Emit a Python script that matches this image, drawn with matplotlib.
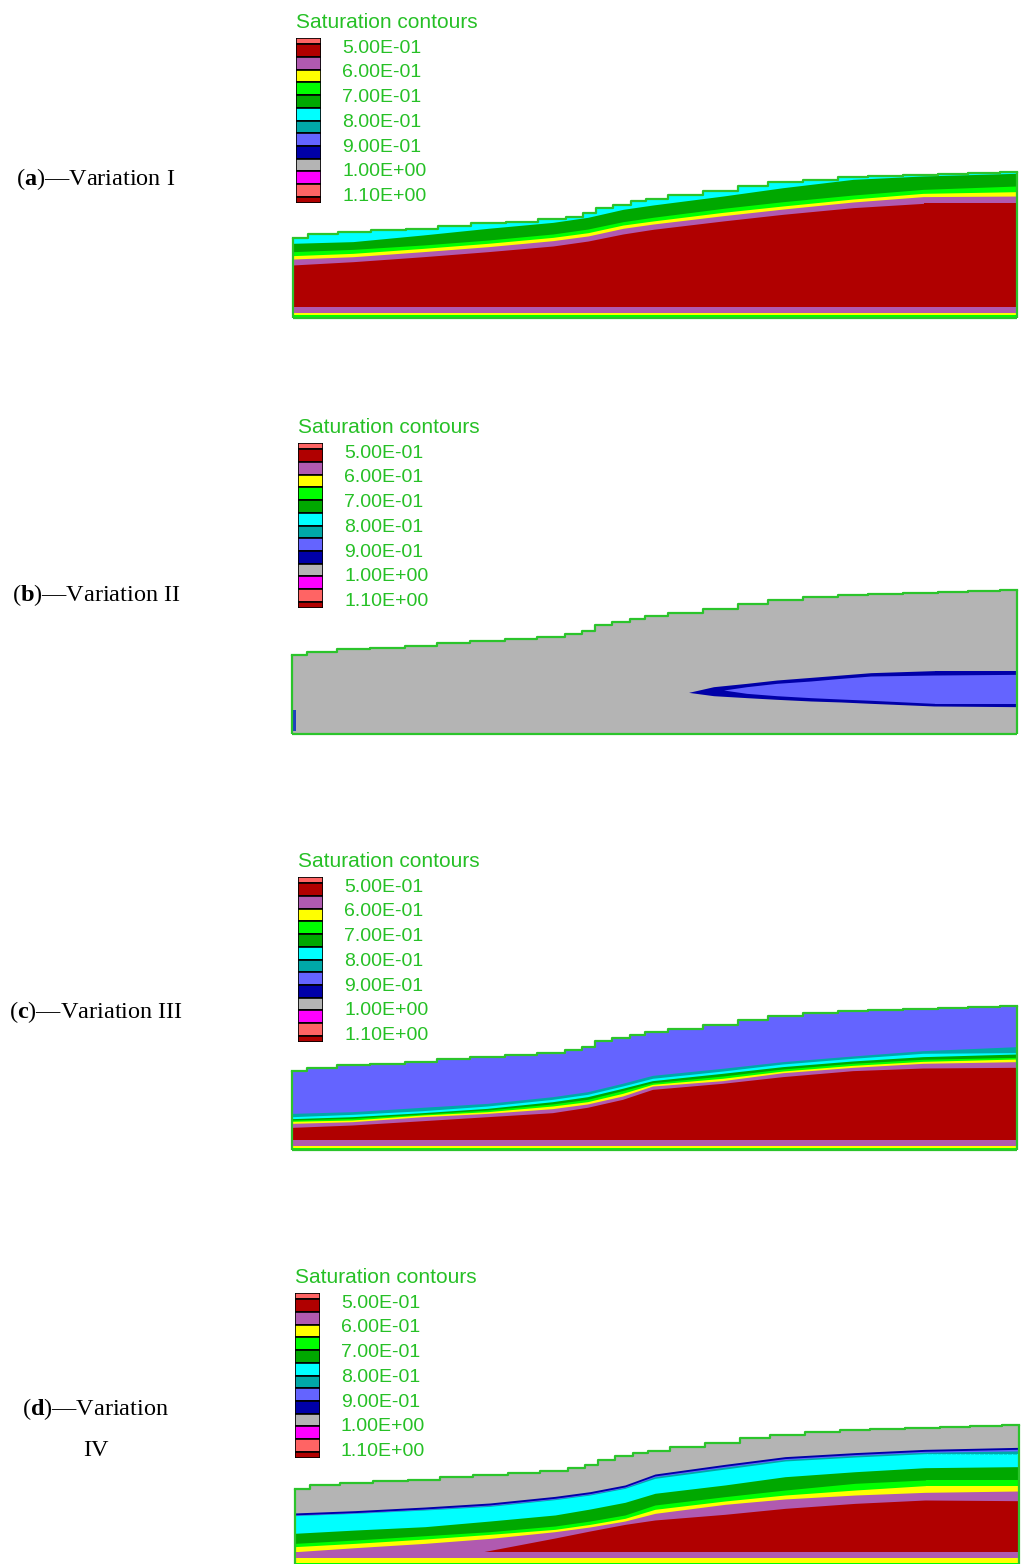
import numpy as np
import matplotlib
matplotlib.use("Agg")
import matplotlib.pyplot as plt

plt.rcParams['mathtext.fontset'] = 'custom'
plt.rcParams['mathtext.rm'] = 'Liberation Serif'
plt.rcParams['mathtext.bf'] = 'Liberation Serif:bold'

W, H = 1024, 1564

# saturation colour scale
SALMON = '#ff6464'
DARKRED = '#b00000'
ORCHID = '#b05ab0'
YELLOW = '#ffff00'
LIME = '#00ff00'
GREEN = '#00a800'
CYAN = '#00ffff'
TEAL = '#00a8a8'
SLATE = '#6464ff'
NAVY = '#0000a8'
GREY = '#b4b4b4'
MAGENTA = '#ff00ff'
EDGE = '#2bc42b'
TXT = '#26c026'

legend_colors = [SALMON, DARKRED, ORCHID, YELLOW, LIME, GREEN, CYAN, TEAL,
                 SLATE, NAVY, GREY, MAGENTA, SALMON, DARKRED]
legend_heights = [0.5] + [1] * 12 + [0.5]
legend_labels = ['5.00E-01', '6.00E-01', '7.00E-01', '8.00E-01',
                 '9.00E-01', '1.00E+00', '1.10E+00']

# ground surface of the slope (m)
x_surf = [0, 3, 6, 9.5, 13, 16, 19.5, 23, 26, 28.5, 29.5, 31, 33, 34.5, 36,
          39, 43, 46, 49, 53, 56, 59, 63, 66, 69, 72.4]
z_surf = [8.07, 8.42, 8.66, 8.83, 9.0, 9.25, 9.52, 9.7, 9.94, 10.2, 10.56,
          11.08, 11.42, 11.77, 12.0, 12.39, 12.8, 13.32, 13.67, 13.94, 14.18,
          14.29, 14.42, 14.53, 14.63, 14.7]

# stations where the contour boundaries were taken
x_st = [0, 6, 13, 19.5, 26, 29.5, 33, 36, 43, 49, 56, 63, 72.4]

# (a) Variation I - top of each zone (m)
a_green_top = [7.52, 7.69, 8.36, 9.03, 9.63, 10.14, 10.94, 11.38, 12.28, 13.12, 13.96, 14.30, 14.57]
a_lime_top = [6.68, 6.91, 7.35, 7.85, 8.46, 8.96, 9.70, 10.14, 11.04, 11.71, 12.38, 12.95, 13.29]
a_yellow_top = [6.28, 6.51, 7.01, 7.52, 8.12, 8.59, 9.36, 9.77, 10.64, 11.28, 11.98, 12.55, 12.72]
a_orchid_top = [5.94, 6.17, 6.68, 7.18, 7.79, 8.26, 9.03, 9.46, 10.30, 10.97, 11.68, 12.22, 12.28]
a_red_top = [5.34, 5.67, 6.17, 6.68, 7.25, 7.75, 8.46, 8.93, 9.77, 10.44, 11.11, 11.54, 11.54]
a_base = [1.12, 0.52, 0.28]

# (b) Variation II - saturated lens
x_lens = [39.6, 42.1, 45.4, 48.4, 51.8, 54.8, 57.8, 64.1, 72.4]
b_navy_top = [4.25, 4.83, 5.17, 5.51, 5.78, 6.02, 6.26, 6.47, 6.47]
b_navy_bot = [4.25, 3.91, 3.71, 3.54, 3.37, 3.27, 3.13, 2.86, 2.79]
x_core = [43.1, 45.4, 48.4, 51.8, 54.8, 57.8, 64.1, 72.4]
b_slate_top = [4.49, 4.83, 5.17, 5.41, 5.68, 5.92, 6.02, 6.09]
b_slate_bot = [4.49, 4.15, 3.91, 3.71, 3.57, 3.44, 3.13, 3.13]
b_seep_x = [0, 0.35]
b_seep_lo = [0.3, 0.3]
b_seep_hi = [2.4, 2.4]

# (c) Variation III
c_teal_top = [3.74, 3.91, 4.36, 4.76, 5.44, 5.95, 6.81, 7.62, 8.34, 9.02, 9.60, 10.14, 10.55]
c_cyan_top = [3.40, 3.64, 4.01, 4.49, 5.17, 5.68, 6.53, 7.32, 8.06, 8.78, 9.36, 9.87, 9.94]
c_green_top = [3.20, 3.40, 3.81, 4.25, 4.93, 5.44, 6.30, 7.08, 7.83, 8.51, 9.09, 9.53, 9.80]
c_lime_top = [3.06, 3.23, 3.67, 4.08, 4.70, 5.17, 6.06, 6.87, 7.55, 8.27, 8.85, 9.26, 9.46]
c_yellow_top = [2.93, 3.06, 3.57, 3.91, 4.49, 4.93, 5.78, 6.70, 7.32, 8.06, 8.64, 9.05, 9.29]
c_orchid_top = [2.72, 2.89, 3.40, 3.74, 4.22, 4.70, 5.51, 6.53, 7.08, 7.89, 8.44, 8.85, 9.02]
c_red_top = [2.31, 2.55, 2.99, 3.40, 3.81, 4.36, 5.17, 6.19, 6.81, 7.49, 8.10, 8.37, 8.44]
c_base = [1.02, 0.41, 0.20]

# (d) Variation IV
d_navy_top = [5.53, 5.77, 6.15, 6.57, 7.26, 7.75, 8.45, 9.59, 10.60, 11.40, 11.82, 12.16, 12.37]
d_slate_top = [5.33, 5.57, 5.95, 6.37, 7.06, 7.55, 8.25, 9.39, 10.40, 11.20, 11.62, 11.96, 12.17]
d_teal_top = [5.28, 5.52, 5.90, 6.30, 6.99, 7.48, 8.18, 9.30, 10.30, 11.10, 11.52, 11.86, 12.00]
d_cyan_top = [5.25, 5.49, 5.84, 6.22, 6.92, 7.40, 8.10, 9.14, 10.11, 10.95, 11.36, 11.71, 11.68]
d_green_top = [3.41, 3.75, 4.10, 4.69, 5.32, 5.94, 6.64, 7.58, 8.45, 9.31, 9.83, 10.25, 10.36]
d_lime_top = [2.36, 2.71, 3.16, 3.58, 4.17, 4.69, 5.32, 6.36, 7.23, 7.92, 8.62, 8.97, 8.97]
d_yellow_top = [2.02, 2.36, 2.81, 3.30, 3.82, 4.34, 4.97, 5.91, 6.78, 7.40, 7.92, 8.38, 8.38]
d_orchid_top = [1.49, 1.91, 2.36, 2.88, 3.58, 4.07, 4.69, 5.49, 6.43, 6.99, 7.40, 7.68, 7.82]
x_red_d = [18.8, 26, 29.5, 33, 36, 43, 49, 56, 63, 72.4]
d_red_top = [1.49, 2.92, 3.65, 4.34, 4.80, 5.39, 6.01, 6.53, 6.88, 6.81]
d_base = [1.49, 0.80, 0.35]

fig = plt.figure(figsize=(W / 100, H / 100), dpi=100)


def box(x0, x1, ytop, ybot):
    return [x0 / W, 1 - ybot / H, (x1 - x0) / W, (ybot - ytop) / H]


def section(rect, top_color, zones, base):
    ax = fig.add_axes(rect)
    surf = ax.fill_between(x_surf, 0, z_surf, step='mid', color=top_color, lw=0)
    clip = surf.get_paths()[0]
    for color, x, lo, hi in zones:
        c = ax.fill_between(x, lo, hi, color=color, lw=0)
        c.set_clip_path(clip, ax.transData)
    for color, z in zip([ORCHID, YELLOW, LIME], base):
        ax.fill_between([x_surf[0], x_surf[-1]], 0, z, color=color, lw=0)
    ax.step(x_surf, z_surf, where='mid', color=EDGE, lw=1.6, clip_on=False)
    ax.vlines([x_surf[0]], 0, z_surf[0], color=EDGE, lw=1.6, clip_on=False)
    ax.vlines([x_surf[-1]], 0, z_surf[-1], color=EDGE, lw=1.6, clip_on=False)
    ax.hlines([0], x_surf[0], x_surf[-1], color=EDGE, lw=1.6, clip_on=False)
    ax.set_xlim(x_surf[0], x_surf[-1])
    ax.set_ylim(0, max(z_surf))
    ax.axis('off')
    return ax


def legend(x0, ytop):
    ax = fig.add_axes(box(x0, x0 + 25, ytop, ytop + 165))
    bottoms = np.concatenate([[0], np.cumsum(legend_heights)[:-1]])
    ax.bar(0.5, legend_heights, bottom=bottoms, width=1, color=legend_colors,
           edgecolor='black', lw=1.2)
    ax.set_xlim(0, 1)
    ax.set_ylim(sum(legend_heights), 0)
    ax.axis('off')
    ax.text(0, -1.26, 'Saturation contours', color=TXT, fontsize=15,
            family='Liberation Sans', va='center', ha='left', clip_on=False)
    for i, lab in enumerate(legend_labels):
        ax.text(1.84, 0.79 + 1.95 * i, lab, color=TXT, fontsize=14,
                family='Liberation Sans', va='center', ha='left', clip_on=False)


def caption(y, text):
    fig.text(96 / W, 1 - y / H, text, ha='center', va='center',
             fontsize=17.5, family='Liberation Serif')


def zones_from(x, pairs):
    return [(color, x, 0, z) for color, z in pairs]


# (a)
section(box(293, 1017, 172, 318), CYAN,
        zones_from(x_st, [(GREEN, a_green_top), (LIME, a_lime_top),
                          (YELLOW, a_yellow_top), (ORCHID, a_orchid_top),
                          (DARKRED, a_red_top)]),
        a_base)
legend(296, 38)
caption(179, r'($\mathbf{a}$)—Variation I')

# (b)
section(box(292, 1017, 590, 734), GREY,
        [(NAVY, x_lens, b_navy_bot, b_navy_top),
         (SLATE, x_core, b_slate_bot, b_slate_top),
         ('#1f3fbf', b_seep_x, b_seep_lo, b_seep_hi)],
        [])
legend(298, 443)
caption(595, r'($\mathbf{b}$)—Variation II')

# (c)
section(box(292, 1017, 1006, 1150), SLATE,
        zones_from(x_st, [(TEAL, c_teal_top), (CYAN, c_cyan_top),
                          (GREEN, c_green_top), (LIME, c_lime_top),
                          (YELLOW, c_yellow_top), (ORCHID, c_orchid_top),
                          (DARKRED, c_red_top)]),
        c_base)
legend(298, 877)
caption(1012, r'($\mathbf{c}$)—Variation III')

# (d)
section(box(295, 1019, 1425, 1566), GREY,
        zones_from(x_st, [(NAVY, d_navy_top), (SLATE, d_slate_top),
                          (TEAL, d_teal_top), (CYAN, d_cyan_top),
                          (GREEN, d_green_top), (LIME, d_lime_top),
                          (YELLOW, d_yellow_top), (ORCHID, d_orchid_top)])
        + [(DARKRED, x_red_d, 0, d_red_top)],
        d_base)
legend(295, 1293)
caption(1409, r'($\mathbf{d}$)—Variation')
caption(1450, 'IV')

fig.savefig('out.png', dpi=100)
